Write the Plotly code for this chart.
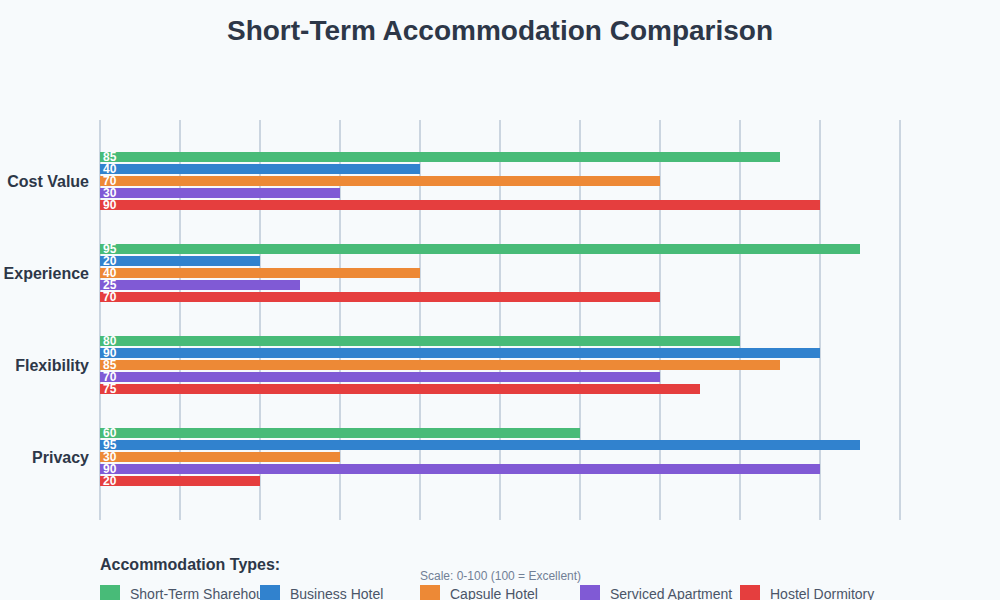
import plotly.graph_objects as go

categories = ["Cost Value", "Experience", "Flexibility", "Privacy"]
series_names = ["Short-Term Sharehouse", "Business Hotel", "Capsule Hotel",
                "Serviced Apartment", "Hostel Dormitory"]
sharehouse = [85, 95, 80, 60]
business_hotel = [40, 20, 90, 95]
capsule_hotel = [70, 40, 85, 30]
serviced_apartment = [30, 25, 70, 90]
hostel_dormitory = [90, 70, 75, 20]
colors = ["#48bb78", "#3182ce", "#ed8936", "#805ad5", "#e53e3e"]

series_values = [sharehouse, business_hotel, capsule_hotel,
                 serviced_apartment, hostel_dormitory]

FONT = "Liberation Sans, Arial, sans-serif"

fig = go.Figure()
for name, vals, col in zip(series_names, series_values, colors):
    fig.add_trace(go.Bar(
        name=name, y=categories, x=vals, orientation="h",
        marker=dict(color=col, line=dict(width=0)),
        text=[str(v) for v in vals], textposition="inside",
        insidetextanchor="start", constraintext="none", textangle=0,
        textfont=dict(family=FONT, size=12, color="white", weight="bold"),
        showlegend=False, hoverinfo="x+name",
    ))

# paper area = x 0..1000, y 120..600 (pixels)
def px_x(px):
    return px / 1000.0
def px_y(py):
    return (600.0 - py) / 480.0

# custom legend labels as a text trace on a full-paper pixel axis,
# so the colour squares (shapes above) sit on top of long labels
legend_x = [130 + 160 * i for i in range(len(series_names))]
fig.add_trace(go.Scatter(
    x=legend_x, y=[595] * len(series_names), xaxis="x2", yaxis="y2",
    mode="text", text=series_names, textposition="middle right",
    textfont=dict(family=FONT, size=14, color="#4a5568"),
    cliponaxis=False, showlegend=False, hoverinfo="skip",
))

shapes = []
for i, col in enumerate(colors):
    x0 = 100 + 160 * i
    shapes.append(dict(type="rect", xref="paper", yref="paper",
                       x0=px_x(x0), x1=px_x(x0 + 20),
                       y0=px_y(585), y1=px_y(605),
                       fillcolor=col, line=dict(width=0), layer="above"))

annotations = [
    dict(xref="paper", yref="paper", x=px_x(99.5), y=px_y(564),
         xanchor="left", yanchor="middle", borderpad=0, borderwidth=0,
         text="<b>Accommodation Types:</b>", showarrow=False,
         font=dict(family=FONT, size=16, color="#2d3748")),
    dict(xref="paper", yref="paper", x=px_x(500), y=px_y(576),
         xanchor="center", yanchor="middle", borderpad=0, borderwidth=0,
         text="Scale: 0-100 (100 = Excellent)", showarrow=False,
         font=dict(family=FONT, size=12, color="#718096")),
]

fig.update_layout(
    width=1000, height=600,
    margin=dict(l=0, r=0, t=120, b=0, pad=0, autoexpand=False),
    paper_bgcolor="#f7fafc", plot_bgcolor="rgba(0,0,0,0)",
    title=dict(text="<b>Short-Term Accommodation Comparison</b>",
               x=0.5, xanchor="center", xref="container",
               y=1 - 30 / 600, yanchor="middle", yref="container",
               font=dict(family=FONT, size=28, color="#2d3748")),
    barmode="group", bargap=0.348, bargroupgap=0.167,
    xaxis=dict(domain=[0.1, 0.904], range=[0, 100.5], dtick=10, tick0=0,
               showticklabels=False, anchor="y",
               showgrid=True, gridcolor="#cbd5e0", gridwidth=2,
               zeroline=True, zerolinecolor="#cbd5e0", zerolinewidth=2,
               showline=False, fixedrange=True, automargin=False),
    yaxis=dict(domain=[80 / 480, 1], range=[3.685, -0.663], anchor="x",
               showgrid=False, zeroline=False,
               ticks="", ticklabelstandoff=10, automargin=False,
               fixedrange=True,
               tickfont=dict(family=FONT, size=16, color="#2d3748",
                             weight="bold")),
    xaxis2=dict(domain=[0, 1], range=[0, 1000], anchor="y2", visible=False,
                fixedrange=True),
    yaxis2=dict(domain=[0, 1], range=[600, 120], anchor="x2", visible=False,
                fixedrange=True),
    shapes=shapes, annotations=annotations,
    showlegend=False,
    font=dict(family=FONT),
)

fig.write_html("out.html", config={"displayModeBar": False},
               post_script="document.body.style.margin='0';"
                           "document.body.style.overflow='hidden';")
